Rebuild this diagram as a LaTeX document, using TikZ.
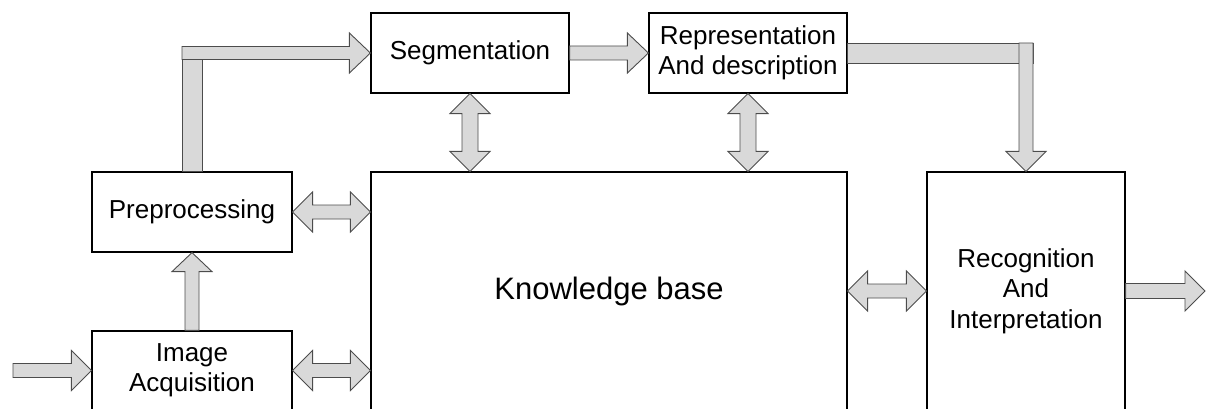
\documentclass[tikz,border=0pt]{standalone}
\usepackage{fontspec}
\setmainfont{Liberation Sans}
\usetikzlibrary{calc}
\tikzset{
  box/.style={draw=black, line width=1.2pt, fill=white, inner sep=0pt, align=center,
    font=\fontsize{26}{30.5}\selectfont},
  arr/.style={draw=black!70, line width=0.9pt, fill=black!15, line join=miter},
}
% horizontal double arrow, #1 left tip, #2 right tip
\newcommand{\dharrow}[2]{%
  \draw[arr] let \p1=(#1), \p2=(#2) in
    (\x1,\y2) -- (\x1+20pt,\y2+20pt) -- (\x1+20pt,\y2+7pt) -- (\x2-20pt,\y2+7pt)
    -- (\x2-20pt,\y2+20pt) -- (\x2,\y2) -- (\x2-20pt,\y2-20pt) -- (\x2-20pt,\y2-7pt)
    -- (\x1+20pt,\y2-7pt) -- (\x1+20pt,\y2-20pt) -- cycle;}
% vertical double arrow, #1 top tip, #2 bottom tip
\newcommand{\dvarrow}[2]{%
  \draw[arr] let \p1=(#1), \p2=(#2) in
    (\x1,\y1) -- (\x1+20pt,\y1-20pt) -- (\x1+8pt,\y1-20pt) -- (\x1+8pt,\y2+20pt)
    -- (\x1+20pt,\y2+20pt) -- (\x1,\y2) -- (\x1-20pt,\y2+20pt) -- (\x1-8pt,\y2+20pt)
    -- (\x1-8pt,\y1-20pt) -- (\x1-20pt,\y1-20pt) -- cycle;}
% right single arrow, #1 tail, #2 tip, #3 shaft half width
\newcommand{\rarrow}[3]{%
  \draw[arr] let \p1=(#1), \p2=(#2) in
    (\x1,\y2-#3) -- (\x1,\y2+#3) -- (\x2-20pt,\y2+#3) -- (\x2-20pt,\y2+20pt)
    -- (\x2,\y2) -- (\x2-20pt,\y2-20pt) -- (\x2-20pt,\y2-#3) -- cycle;}
\begin{document}
\begin{tikzpicture}[x=1pt,y=1pt]
\useasboundingbox (0,0) rectangle (1213,408);
\clip (0,0) rectangle (1213,408);

\node[box, minimum width=200pt, minimum height=80pt] (pre) at (192,196) {Preprocessing};
\node[box, minimum width=200pt, minimum height=79pt] (acq) at (192,37.5) {Image\\Acquisition};
\node[box, minimum width=198pt, minimum height=80pt] (seg) at (470,355) {Segmentation};
\node[box, minimum width=198pt, minimum height=80pt] (rep) at (748,355) {Representation\\And description};
\node[box, minimum width=476pt, minimum height=238pt, font=\fontsize{31}{36}\selectfont] (kb) at (609,117) {Knowledge base};
\node[box, minimum width=198pt, minimum height=238pt] (rec) at (1026,117) {Recognition\\And\\Interpretation};
\coordinate (in) at (13,37.5);
\coordinate (out) at (1205,117);

% input and output
\rarrow{in}{acq.west}{7pt}
\rarrow{rec.east}{out}{7.5pt}

% acquisition -> preprocessing (up)
\draw[arr] let \p1=(acq.north), \p2=(pre.south) in
  (\x1-7pt,\y1) -- (\x1+7pt,\y1) -- (\x1+7pt,\y2-19pt) -- (\x1+20pt,\y2-19pt)
  -- (\x1,\y2) -- (\x1-20pt,\y2-19pt) -- (\x1-7pt,\y2-19pt) -- cycle;

% preprocessing -> segmentation (L shaped)
\draw[arr] let \p1=(pre.north), \p2=(seg.west) in
  (\x1-10pt,\y1) rectangle (\x1+10pt,\y2-6.5pt);
\draw[arr] let \p1=(pre.north), \p2=(seg.west) in
  (\x1-10pt,\y2-6.5pt) -- (\x1-10pt,\y2+6.5pt) -- (\x2-21pt,\y2+6.5pt) -- (\x2-21pt,\y2+20pt)
  -- (\x2,\y2) -- (\x2-21pt,\y2-20pt) -- (\x2-21pt,\y2-6.5pt) -- cycle;

% segmentation -> representation
\draw[arr] let \p1=(seg.east), \p2=(rep.west) in
  (\x1,\y2-7pt) -- (\x1,\y2+7pt) -- (\x2-21pt,\y2+7pt) -- (\x2-21pt,\y2+20pt)
  -- (\x2,\y2) -- (\x2-21pt,\y2-20pt) -- (\x2-21pt,\y2-7pt) -- cycle;

% representation -> recognition (L shaped)
\draw[arr] let \p1=(rep.east), \p2=(rec.north) in
  (\x1,\y1-10pt) rectangle (\x2+7pt,\y1+10pt);
\draw[arr] let \p1=(rep.east), \p2=(rec.north) in
  (\x2-7pt,\y1+10pt) -- (\x2+7pt,\y1+10pt) -- (\x2+7pt,\y2+20pt) -- (\x2+20pt,\y2+20pt)
  -- (\x2,\y2) -- (\x2-20pt,\y2+20pt) -- (\x2-7pt,\y2+20pt) -- cycle;

% double arrows with the knowledge base
\dvarrow{seg.south}{seg.south |- kb.north}
\dvarrow{rep.south}{rep.south |- kb.north}
\dharrow{pre.east}{pre.east -| kb.west}
\dharrow{acq.east}{acq.east -| kb.west}
\dharrow{kb.east}{rec.west}
\end{tikzpicture}
\end{document}
